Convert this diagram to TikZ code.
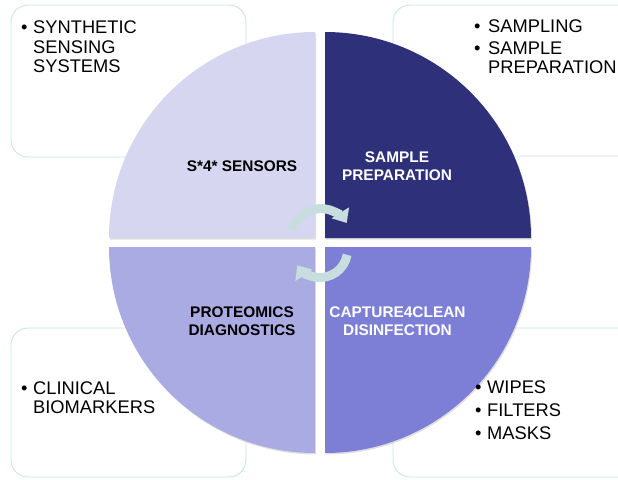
\documentclass[tikz,border=0pt]{standalone}
\usepackage{fontspec}
\setmainfont{Liberation Sans}
\usetikzlibrary{arrows.meta,shadows}

\definecolor{quadTL}{RGB}{214,214,241}
\definecolor{quadTR}{RGB}{46,49,121}
\definecolor{quadBL}{RGB}{171,171,227}
\definecolor{quadBR}{RGB}{124,127,213}
\definecolor{boxline}{RGB}{200,229,233}
\definecolor{arrowcol}{RGB}{200,221,222}

\begin{document}
\begin{tikzpicture}[x=1pt,y=-1pt,
    infobox/.style={draw=boxline, fill=white, line width=0.9pt, rounded corners=17pt},
    quarter/.style={drop shadow={shadow xshift=1pt, shadow yshift=-1.5pt, opacity=0.25}},
    boxtext/.style={anchor=base west, inner sep=0pt, font=\fontsize{18.3}{21}\selectfont},
    title/.style={align=center, inner sep=0pt, font=\bfseries\fontsize{15.4}{17.5}\selectfont},
    cyclearrow/.style={draw=arrowcol, line width=9pt, -{Triangle[width=20pt,length=12pt]}}]

    % Canvas of the picture (image coordinates, y going down)
    \useasboundingbox (0,0) rectangle (618,479);
    \clip (0,0) rectangle (618,479);

    % Four rounded boxes behind the circle
    \draw[infobox] (11,5) rectangle (246,157);
    \draw[infobox] (393,5) rectangle (650,156);
    \draw[infobox] (11,328) rectangle (246,477);
    \draw[infobox] (393,328) rectangle (650,477);

    % Corners of the four quarters
    \coordinate (TL) at (315,238);
    \coordinate (TR) at (325,238);
    \coordinate (BL) at (315,247);
    \coordinate (BR) at (325,247);

    % The circle cut into four quarters
    \fill[quarter, quadTL] (TL) -- (109,238) arc[start angle=180, end angle=270, radius=206] -- cycle;
    \fill[quarter, quadTR] (TR) -- (325,32) arc[start angle=270, end angle=360, radius=206] -- cycle;
    \fill[quarter, quadBR] (BR) -- (531,247) arc[start angle=0, end angle=90, radius=206] -- cycle;
    \fill[quarter, quadBL] (BL) -- (315,453) arc[start angle=90, end angle=180, radius=206] -- cycle;

    % Titles of the quarters
    \node[title] (sensors) at (242,166) {S*4* SENSORS};
    \node[title, white] (prep) at (397,166) {SAMPLE\\PREPARATION};
    \node[title] (proteo) at (242,321) {PROTEOMICS\\DIAGNOSTICS};
    \node[title, white] (capture) at (397.5,321) {CAPTURE4CLEAN\\DISINFECTION};

    % Cycle arrows in the middle
    \draw[cyclearrow] (291.8,229.7) arc[start angle=198, end angle=328, radius=30.5];
    \draw[cyclearrow] (347.1,254.8) arc[start angle=10, end angle=146, radius=27.5];

    % Top left box
    \node[boxtext] (tlbul) at (21,33.3) {\textbullet};
    \node[boxtext] (tlA) at (33,33.3) {SYNTHETIC};
    \node[boxtext] (tlB) at (33,53) {SENSING};
    \node[boxtext] (tlC) at (33,72.5) {SYSTEMS};

    % Top right box
    \node[boxtext] (trbulA) at (474,32) {\textbullet};
    \node[boxtext] (trA) at (488,32) {SAMPLING};
    \node[boxtext] (trbulB) at (474,54) {\textbullet};
    \node[boxtext] (trB) at (488,54) {SAMPLE};
    \node[boxtext] (trC) at (488,73) {PREPARATION};

    % Bottom left box
    \node[boxtext] (blbul) at (21,394) {\textbullet};
    \node[boxtext] (blA) at (33,394) {CLINICAL};
    \node[boxtext] (blB) at (33,413.5) {BIOMARKERS};

    % Bottom right box
    \foreach \txt/\yy [count=\i] in {WIPES/393, FILTERS/416.5, MASKS/439.5} {
        \node[boxtext] (brbul\i) at (475,\yy) {\textbullet};
        \node[boxtext] (br\i) at (487,\yy) {\txt};
    }

\end{tikzpicture}
\end{document}
